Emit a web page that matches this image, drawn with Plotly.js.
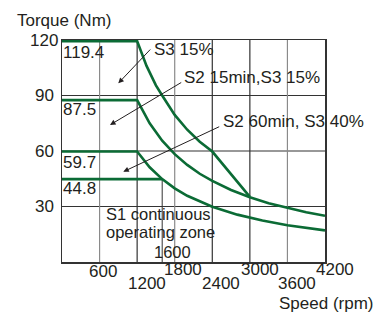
<!DOCTYPE html>
<html>
<head>
<meta charset="utf-8">
<script src="https://cdn.plot.ly/plotly-3.0.1.min.js"></script>
<style>html,body{margin:0;padding:0;background:#fff;}#chart{width:374px;height:313px;}</style>
</head>
<body>
<div id="chart"></div>
<script>
// ---- data ----
const speedS3 = [0, 1200, 1350, 1500, 1600, 1800, 2000, 2200, 2400, 2700, 3000];
const torqueS3 = [119.4, 119.4, 106, 95.5, 90, 79.5, 71.5, 65, 59.7, 47.5, 35.2];

const speedS2_15 = [0, 1200, 1400, 1600, 1800, 2000, 2200, 2400, 2700, 3000, 3300, 3600, 3900, 4200];
const torqueS2_15 = [87.5, 87.5, 75, 65.6, 58.3, 52.5, 47.7, 43.8, 38.9, 35, 31.8, 29.2, 26.9, 25];

const speedS2_60 = [0, 1200, 1400, 1600, 1800, 2000, 2400, 2800, 3200, 3600, 4200];
const torqueS2_60 = [59.7, 59.7, 51.2, 44.8, 39.8, 35.8, 29.9, 25.6, 22.4, 19.9, 17.1];

const speedS1 = [0, 1600];
const torqueS1 = [44.8, 44.8];

const xTicks = [600, 1200, 1800, 2400, 3000, 3600, 4200];
const xTickLabels = ['600', '1200', '1800', '2400', '3000', '3600', '4200'];
const yTicks = [30, 60, 90, 120];
const yTickLabels = ['30', '60', '90', '120'];
const levelLabels = ['119.4', '87.5', '59.7', '44.8'];
const baseSpeed = 1600;

// ---- style ----
const green = '#0b6b35';
const ink = '#231f20';
const font = {family: '"Liberation Sans", Arial, sans-serif', size: 17, color: ink};
const smallFont = {family: '"Liberation Sans", Arial, sans-serif', size: 16.5, color: ink};
const xLabelShift = [3, 9.5, 8.5, 8.6, 10, 10, 10];
const xLabelY = [-9, -21, -7.5, -21, -7.5, -21, -7.5];
const vGridColor = ['#8a8a8a', '#333', '#8a8a8a', '#333', '#333', '#8a8a8a'];
const levelY = [113, 82.7, 53.8, 39.5];

function line(x, y) {
  return {x: x, y: y, type: 'scatter', mode: 'lines', line: {color: green, width: 2.6}, hoverinfo: 'skip', showlegend: false};
}
const traces = [
  line(speedS1, torqueS1),
  line(speedS2_60, torqueS2_60),
  line(speedS2_15, torqueS2_15),
  line(speedS3, torqueS3)
];

const shapes = [];
yTicks.slice(0, 3).forEach(v => shapes.push({type: 'line', xref: 'paper', x0: 0, x1: 1, yref: 'y', y0: v, y1: v, line: {color: '#333', width: 1.2}, layer: 'below'}));
xTicks.slice(0, 6).forEach((v, i) => shapes.push({type: 'line', yref: 'paper', y0: 0, y1: 1, xref: 'x', x0: v, x1: v, line: {color: vGridColor[i], width: 1.2}, layer: 'below'}));
shapes.push({type: 'line', xref: 'x', x0: baseSpeed, x1: baseSpeed, yref: 'y', y0: 0, y1: torqueS1[1], line: {color: '#333', width: 1}, layer: 'below'});

const ann = [];
xTicks.forEach((v, i) => ann.push({x: v, xref: 'x', y: 0, yref: 'paper', text: xTickLabels[i], showarrow: false, xanchor: 'center', yanchor: 'middle', xshift: xLabelShift[i], yshift: xLabelY[i], font: font}));
yTicks.forEach((v, i) => ann.push({x: 0, xref: 'paper', y: v, yref: 'y', text: yTickLabels[i], showarrow: false, xanchor: 'center', yanchor: 'middle', xshift: -18, font: font}));
levelLabels.forEach((t, i) => ann.push({x: 0, xref: 'paper', y: levelY[i], yref: 'y', text: t, showarrow: false, xanchor: 'left', yanchor: 'middle', xshift: -1, font: font}));

const arrowStyle = {showarrow: true, arrowhead: 2, arrowsize: 1.1, arrowwidth: 1, arrowcolor: ink, text: '', standoff: 0};
ann.push(Object.assign({x: 899, y: 96.6, xref: 'x', yref: 'y', ax: 33.4, ay: -35.3}, arrowStyle));
ann.push(Object.assign({x: 767, y: 74.1, xref: 'x', yref: 'y', ax: 72.7, ay: -43.3}, arrowStyle));
ann.push(Object.assign({x: 979, y: 48.8, xref: 'x', yref: 'y', ax: 97.4, ay: -45.7}, arrowStyle));

function txt(x, y, t, anchor, f) {
  return {x: x, y: y, xref: 'x', yref: 'y', text: t, showarrow: false, xanchor: anchor || 'left', yanchor: 'middle', font: f || font, borderpad: 0};
}
ann.push(txt(1448, 114.6, 'S3 15%'));
ann.push(txt(1927, 99.5, 'S2 15min,S3 15%'));
ann.push(txt(2550, 75.8, 'S2 60min, S3 40%'));
ann.push(txt(687, 26.2, 'S1 continuous', 'left', smallFont));
ann.push(txt(687, 16.2, 'operating zone', 'left', smallFont));
ann.push(txt(baseSpeed + 165, 5.2, String(baseSpeed), 'center', smallFont));

ann.push({x: -0.1787, y: 1.09, xref: 'paper', yref: 'paper', text: 'Torque (Nm)', showarrow: false, xanchor: 'left', yanchor: 'middle', font: font});
ann.push({x: 0.816, y: -0.1847, xref: 'paper', yref: 'paper', text: 'Speed (rpm)', showarrow: false, xanchor: 'left', yanchor: 'middle', font: font});

const layout = {
  width: 374, height: 313,
  margin: {l: 62, r: 49, t: 40, b: 51, pad: 0},
  paper_bgcolor: '#fff', plot_bgcolor: '#fff',
  font: font,
  xaxis: {range: [0, 4200], showgrid: false, zeroline: false, showticklabels: false, ticks: '', showline: true, mirror: true, linecolor: '#333', linewidth: 1.5, fixedrange: true},
  yaxis: {range: [0, 120], showgrid: false, zeroline: false, showticklabels: false, ticks: '', showline: true, mirror: true, linecolor: '#333', linewidth: 1.5, fixedrange: true},
  shapes: shapes,
  annotations: ann,
  showlegend: false
};
Plotly.newPlot('chart', traces, layout, {displayModeBar: false, staticPlot: true});
</script>
</body>
</html>
